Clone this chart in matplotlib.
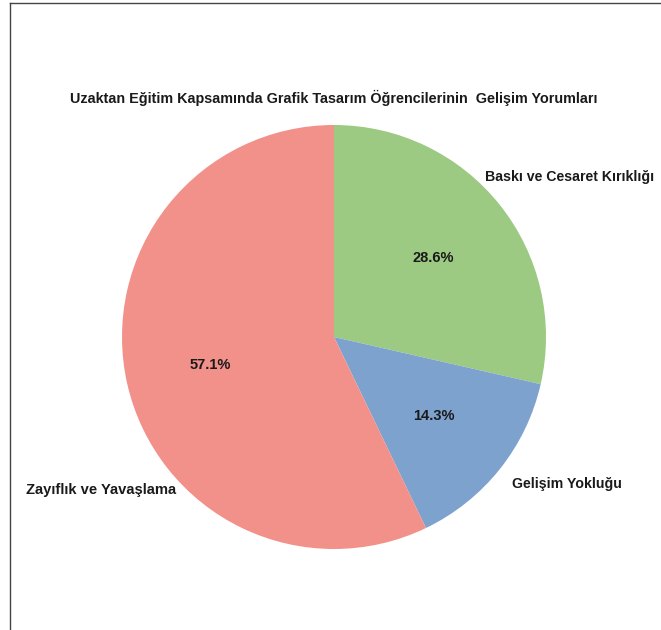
import matplotlib
matplotlib.use("Agg")
import matplotlib.pyplot as plt
from matplotlib.lines import Line2D

title = "Uzaktan Eğitim Kapsamında Grafik Tasarım Öğrencilerinin  Gelişim Yorumları"
categories = ["Baskı ve Cesaret Kırıklığı", "Gelişim Yokluğu", "Zayıflık ve Yavaşlama"]
values = [2, 1, 4]
colors = ["#9DCA82", "#7EA2CE", "#F2908A"]

plt.rcParams['font.family'] = ['Liberation Sans', 'DejaVu Sans']

W, H = 661, 630
fig = plt.figure(figsize=(W / 100, H / 100), dpi=100)
cx, cy, r = 334, 337, 212
ax = fig.add_axes([(cx - r) / W, (H - cy - r) / H, 2 * r / W, 2 * r / H])

wedges, texts, autotexts = ax.pie(values, labels=categories, colors=colors,
                                  startangle=90, counterclock=False,
                                  autopct='%1.1f%%', pctdistance=0.6,
                                  textprops=dict(fontsize=10.5, fontweight='bold', color='#1a1a1a'))
ax.set_xlim(-1, 1)
ax.set_ylim(-1, 1)
ax.set_aspect('auto')

# label positions (Excel-like outside placement)
label_pos = [((485 - cx) / r, (cy - 177) / r, 'left', 10.2),
             ((512 - cx) / r, (cy - 484) / r, 'left', 10.2),
             ((176 - cx) / r, (cy - 490) / r, 'right', 10.6)]
for t, (x, y, ha, fs) in zip(texts, label_pos):
    t.set_position((x, y))
    t.set_ha(ha)
    t.set_va('center')
    t.set_fontsize(fs)

fig.text(cx / W, 1 - 98 / H, title, ha='center', va='center',
         fontsize=10.4, fontweight='bold', color='#1a1a1a')

fig.add_artist(Line2D([9.5 / W, 9.5 / W], [0, 1 - 3 / H], transform=fig.transFigure,
                      color='#444444', lw=1))
fig.add_artist(Line2D([9.5 / W, 1], [1 - 3 / H, 1 - 3 / H], transform=fig.transFigure,
                      color='#444444', lw=1))

fig.savefig("out.png", dpi=100)
